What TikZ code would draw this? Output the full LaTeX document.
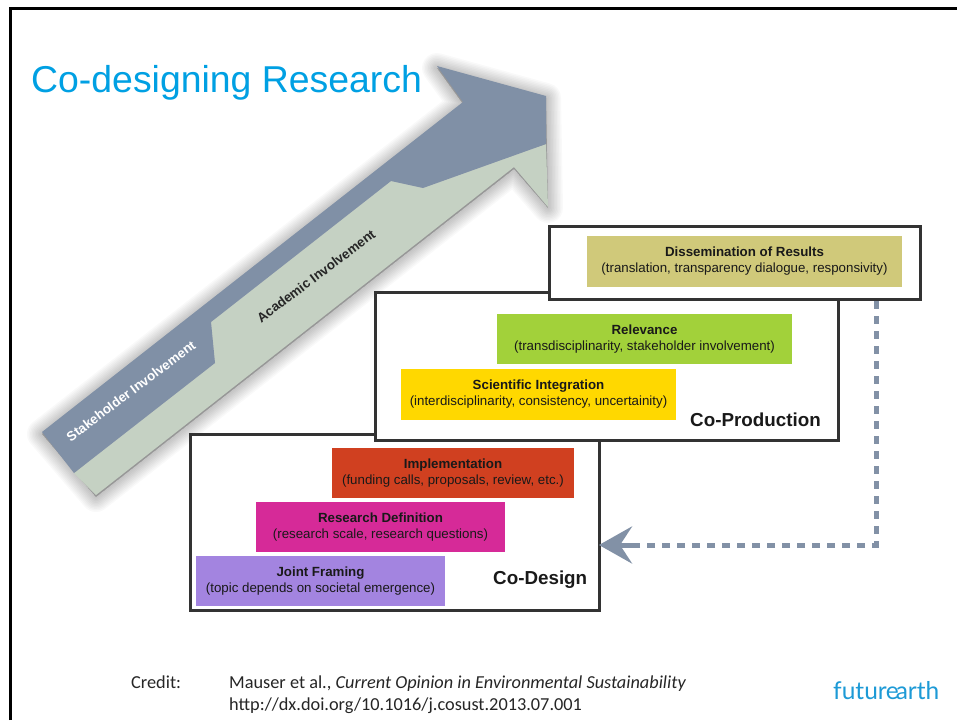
\documentclass[tikz,border=0pt]{standalone}
\usepackage{fontspec}
\setmainfont{Liberation Sans}
\newfontfamily\credfont{Carlito}
\newfontfamily\logofont{Lato}
\usetikzlibrary{arrows.meta}
\definecolor{slate}{HTML}{8090A6}
\definecolor{sage}{HTML}{C5D1C3}
\definecolor{framec}{HTML}{333333}
\definecolor{titleblue}{HTML}{00A0E3}
\definecolor{logoblue}{HTML}{1D9AD6}
\definecolor{dashc}{HTML}{8291A6}
\definecolor{khaki}{HTML}{D0C97A}
\definecolor{leaf}{HTML}{A2D13A}
\definecolor{gold}{HTML}{FFD800}
\definecolor{rust}{HTML}{D04020}
\definecolor{magentab}{HTML}{D62A98}
\definecolor{lilac}{HTML}{A384E0}
\tikzset{
  outerbox/.style={draw=framec,line width=3pt,fill=white,anchor=north west,outer sep=0pt,inner sep=0pt},
  band/.style={anchor=north west,outer sep=0pt,inner sep=0pt,align=center,text=black!90,font=\fontsize{13.3}{16}\selectfont},
  stagelabel/.style={font=\bfseries\fontsize{18.8}{22}\selectfont,text=black!90,inner sep=0pt},
  arrowlabel/.style={font=\bfseries\fontsize{13.3}{16}\selectfont,inner sep=0pt},
  credit/.style={font=\credfont\fontsize{18.3}{22}\selectfont,anchor=base west,inner sep=0pt,text=black!85},
}
\newcommand{\bandtext}[2]{{\bfseries #1}\\#2}
\begin{document}
\begin{tikzpicture}[x=1pt,y=-1pt]
\useasboundingbox (0,0) rectangle (957,720);
\fill[white] (0,0) rectangle (957,720);
% slide frame
\draw[black,line width=3pt] (10,720) -- (10,8) -- (957,8);
% soft shadow of the big arrow
\foreach \w in {30,27,24,21,18,15,12,9,6,3}{
  \draw[black,opacity=0.022,line width=\w pt,line join=round,fill=black]
    (42,434) -- (463,104) -- (437,68) -- (546,98) -- (548,208) -- (514,169) -- (96,497) -- cycle;
}
% big arrow
\fill[sage] (74,473) -- (215,363) -- (211,322) -- (391,181) -- (423,188) -- (546,144) -- (548,207) -- (514,167) -- (96,495) -- cycle;
\fill[slate] (42,432) -- (463,102) -- (437,66) -- (546,96) -- (546,144) -- (423,188) -- (391,181) -- (211,322) -- (215,363) -- (74,473) -- cycle;
\node[arrowlabel,text=white,rotate=37] (stake) at (131,391) {Stakeholder Involvement};
\node[arrowlabel,text=black!85,rotate=37] (acad) at (316,276) {Academic Involvement};
% title
\node[anchor=base west,inner sep=0pt,text=titleblue,font=\fontsize{37.4}{42}\selectfont] (title) at (31,92) {Co-designing Research};
% co-design
\node[outerbox,minimum width=409pt,minimum height=176pt] (codesign) at (190,434) {};
\node[band,fill=rust,minimum width=242pt,minimum height=50pt] (impl) at (332,448) {\bandtext{Implementation}{(funding calls, proposals, review, etc.)}};
\node[band,fill=magentab,minimum width=249pt,minimum height=50pt] (resdef) at (256,502) {\bandtext{Research Definition}{(research scale, research questions)}};
\node[band,fill=lilac,minimum width=249pt,minimum height=50pt] (joint) at (196,556) {\bandtext{Joint Framing}{(topic depends on societal emergence)}};
\node[stagelabel,anchor=base west] (cdlabel) at (493,584) {Co-Design};
% co-production
\node[outerbox,minimum width=463pt,minimum height=148pt] (coprod) at (375,292) {};
\node[band,fill=leaf,minimum width=295pt,minimum height=50pt] (relev) at (497,314) {\bandtext{Relevance}{(transdisciplinarity, stakeholder involvement)}};
\node[band,fill=gold,minimum width=275pt,minimum height=51pt] (scient) at (401,369) {\bandtext{Scientific Integration}{(interdisciplinarity, consistency, uncertainity)}};
\node[stagelabel,anchor=base west] (cplabel) at (690,426) {Co-Production};
% dissemination
\node[outerbox,minimum width=371pt,minimum height=73pt] (dissem) at (549,226) {};
\node[band,fill=khaki,minimum width=315pt,minimum height=51pt] (results) at (587,236) {\bandtext{Dissemination of Results}{(translation, transparency dialogue, responsivity)}};
% feedback connector
\coordinate (fbcorner) at (876,545);
\draw[dashc,line width=5pt,dash pattern=on 8pt off 7pt] (dissem.south -| fbcorner) ++(0,2) -- (fbcorner) -- (626,545);
\draw[dashc,line width=5pt,-{Stealth[length=33pt,width=37pt,inset=12pt]}] (632,545) -- (codesign.east |- fbcorner);
% credit
\node[credit] (credlab) at (131,688) {Credit:};
\node[credit] (credone) at (229,688) {Mauser et al., \itshape Current Opinion in Environmental Sustainability};
\node[credit] (credtwo) at (229,710) {http://dx.doi.org/10.1016/j.cosust.2013.07.001};
% logo
\node[anchor=base west,inner sep=0pt,text=logoblue,font=\logofont\fontsize{24.5}{28}\selectfont] (logo) at (833,699) {futur\kern-1pt e\kern-3pt arth};
\end{tikzpicture}
\end{document}
